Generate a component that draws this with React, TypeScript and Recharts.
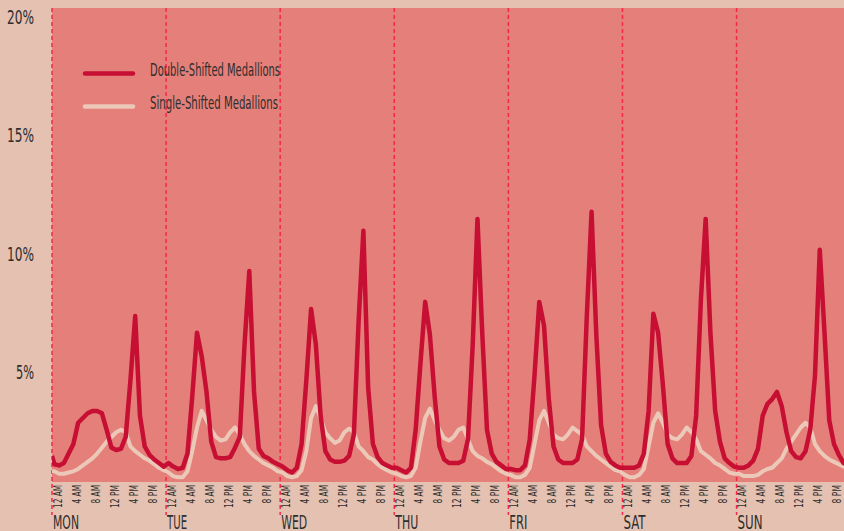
import React from 'react';
import { LineChart, Line, XAxis, YAxis, CartesianGrid, ReferenceLine, Legend } from 'recharts';

const days = ['MON', 'TUE', 'WED', 'THU', 'FRI', 'SAT', 'SUN'];
const hourLabels = ['12 AM', '4 AM', '8 AM', '12 PM', '4 PM', '8 PM'];
const yTicks = [5, 10, 15, 20];
const seriesNames = ['Double-Shifted Medallions', 'Single-Shifted Medallions'];

// hourly share of trips (%) for each day, hour 0..23
const doubleStart = 1.1;
const doubleMon = [0.75, 0.7, 0.8, 1.2, 1.6, 2.5, 2.7, 2.9, 3.0, 3.0, 2.9, 2.2, 1.45, 1.35, 1.4, 1.9, 4.3, 7.0, 2.8, 1.5, 1.15, 0.95, 0.8, 0.65];
const doubleTue = [0.8, 0.65, 0.55, 0.6, 1.2, 3.6, 6.3, 5.3, 3.8, 1.7, 1.05, 1.0, 1.0, 1.05, 1.45, 1.9, 5.8, 8.9, 3.8, 1.4, 1.1, 1.0, 0.85, 0.75];
const doubleWed = [0.65, 0.5, 0.4, 0.6, 1.6, 4.3, 7.3, 5.8, 2.8, 1.3, 0.95, 0.85, 0.85, 0.9, 1.1, 2.0, 6.8, 10.6, 4.0, 1.6, 1.05, 0.8, 0.7, 0.6];
const doubleThu = [0.6, 0.5, 0.4, 0.6, 2.2, 5.0, 7.6, 6.2, 3.6, 1.5, 0.95, 0.8, 0.8, 0.8, 0.9, 1.8, 5.8, 11.1, 6.3, 2.2, 1.2, 0.85, 0.7, 0.55];
const doubleFri = [0.55, 0.5, 0.5, 0.7, 1.8, 4.5, 7.6, 6.6, 3.5, 1.5, 0.95, 0.8, 0.8, 0.8, 0.95, 1.8, 7.0, 11.4, 6.2, 2.4, 1.2, 0.85, 0.7, 0.6];
const doubleSat = [0.6, 0.6, 0.6, 0.7, 1.2, 3.0, 7.1, 6.3, 4.1, 1.6, 1.0, 0.8, 0.8, 0.8, 1.1, 2.8, 7.7, 11.1, 6.3, 3.0, 1.7, 1.0, 0.8, 0.65];
const doubleSun = [0.6, 0.6, 0.7, 0.9, 1.4, 2.8, 3.3, 3.5, 3.8, 3.2, 2.1, 1.3, 1.05, 1.0, 1.3, 2.2, 4.5, 9.8, 6.3, 2.6, 1.6, 1.15, 0.8, 0.7];

const singleStart = 0.45;
const singleMon = [0.45, 0.35, 0.35, 0.4, 0.45, 0.55, 0.7, 0.85, 1.0, 1.2, 1.45, 1.7, 1.9, 2.1, 2.2, 2.1, 1.5, 1.3, 1.15, 1.0, 0.9, 0.75, 0.6, 0.5];
const singleTue = [0.4, 0.25, 0.2, 0.2, 0.45, 1.3, 2.3, 3.0, 2.6, 2.2, 1.9, 1.75, 1.8, 2.1, 2.3, 2.0, 1.6, 1.3, 1.1, 0.95, 0.8, 0.7, 0.6, 0.45];
const singleWed = [0.4, 0.25, 0.2, 0.25, 0.5, 1.3, 2.7, 3.2, 2.7, 2.1, 1.85, 1.65, 1.75, 2.1, 2.25, 2.1, 1.5, 1.3, 1.05, 0.95, 0.75, 0.6, 0.5, 0.4];
const singleThu = [0.35, 0.25, 0.2, 0.25, 0.6, 1.7, 2.7, 3.1, 2.6, 2.2, 1.85, 1.75, 1.9, 2.2, 2.3, 1.8, 1.3, 1.1, 1.0, 0.85, 0.75, 0.6, 0.45, 0.35];
const singleFri = [0.3, 0.2, 0.2, 0.3, 0.6, 1.6, 2.6, 3.0, 2.5, 2.0, 1.85, 1.8, 2.0, 2.3, 2.15, 2.0, 1.5, 1.3, 1.1, 0.95, 0.8, 0.65, 0.5, 0.45];
const singleSat = [0.3, 0.2, 0.2, 0.3, 0.55, 1.5, 2.5, 2.9, 2.5, 2.0, 1.85, 1.8, 2.0, 2.3, 2.1, 1.8, 1.3, 1.15, 1.0, 0.8, 0.7, 0.55, 0.4, 0.35];
const singleSun = [0.35, 0.25, 0.25, 0.25, 0.3, 0.45, 0.55, 0.6, 0.8, 1.0, 1.4, 1.7, 2.0, 2.3, 2.5, 2.3, 1.6, 1.3, 1.1, 0.95, 0.85, 0.75, 0.65, 0.6];

const doubleByDay = [doubleMon, doubleTue, doubleWed, doubleThu, doubleFri, doubleSat, doubleSun];
const singleByDay = [singleMon, singleTue, singleWed, singleThu, singleFri, singleSat, singleSun];

const data: { t: number; d: number; s: number }[] = [{ t: 0, d: doubleStart, s: singleStart }];
doubleByDay.forEach((arr, di) => {
  arr.forEach((v, h) => {
    data.push({ t: di * 24 + h + 0.5, d: v, s: singleByDay[di][h] });
  });
});

const xTicks: number[] = [];
for (let i = 0; i < days.length * hourLabels.length; i++) xTicks.push(i * 4);
const dayStarts = days.map((_, i) => i * 24);

const BG = '#E4C1B1';
const PLOT = '#E57F79';
const DARK = '#C60F33';
const LIGHT = '#EBC8B8';
const DASH = '#F2294B';
const TEXT = '#2E2E2E';
const FONT = '"DejaVu Sans Condensed", "DejaVu Sans", sans-serif';
const dayWidths: Record<string, number> = { MON: 26, TUE: 20, WED: 26, THU: 23, FRI: 18, SAT: 22, SUN: 25 };

const XTick = (props: any) => {
  const { x, y, payload } = props;
  const v = payload.value as number;
  const label = hourLabels[(v / 4) % 6];
  const tx = x + 9.5;
  const ty = y + 3;
  const isDay = v % 24 === 0;
  const day = days[Math.floor(v / 24)];
  return (
    <g>
      <text
        x={tx}
        y={ty}
        transform={`rotate(-90, ${tx}, ${ty})`}
        textAnchor="end"
        fontSize={12.5}
        fontFamily={FONT}
        fill={TEXT}
        textLength={label.length * 4.6}
        lengthAdjust="spacingAndGlyphs"
      >
        {label}
      </text>
      {isDay && (
        <text
          x={x + 1}
          y={y + 46.5}
          fontSize={19}
          fontFamily={FONT}
          fill={TEXT}
          textLength={dayWidths[day]}
          lengthAdjust="spacingAndGlyphs"
        >
          {day}
        </text>
      )}
    </g>
  );
};

const YTick = (props: any) => {
  const { y, payload } = props;
  const label = `${payload.value}%`;
  return (
    <text
      x={34}
      y={y + 15.5}
      textAnchor="end"
      fontSize={20}
      fontFamily={FONT}
      fill={TEXT}
      textLength={label.length * 9}
      lengthAdjust="spacingAndGlyphs"
    >
      {label}
    </text>
  );
};

const DayLine = (props: any) => {
  const top = Math.min(props.y1, props.y2);
  const bottom = Math.max(props.y1, props.y2) + 33;
  return (
    <line x1={props.x1} x2={props.x2} y1={top} y2={bottom} stroke={DASH} strokeWidth={1.5} strokeDasharray="4 3" />
  );
};

const LegendContent = () => {
  const items = [
    { name: seriesNames[0], color: DARK, ly: 73.5, ty: 76, w: 130 },
    { name: seriesNames[1], color: LIGHT, ly: 106.5, ty: 108.5, w: 128 },
  ];
  return (
    <svg width={480} height={130} style={{ display: 'block', overflow: 'visible' }}>
      {items.map((it) => (
        <g key={it.name}>
          <line x1={85} x2={133} y1={it.ly} y2={it.ly} stroke={it.color} strokeWidth={4.5} strokeLinecap="round" />
          <text x={150} y={it.ty} fontSize={17} fontFamily={FONT} fill={TEXT} textLength={it.w} lengthAdjust="spacingAndGlyphs">
            {it.name}
          </text>
        </g>
      ))}
    </svg>
  );
};

export default function App() {
  return (
    <div style={{ position: 'absolute', left: 0, top: 0, width: 844, height: 531, background: BG, overflow: 'hidden' }}>
      <LineChart width={844} height={531} data={data} margin={{ top: 8, right: 0, left: 0, bottom: 0 }}>
        <CartesianGrid horizontal={false} vertical={false} fill={PLOT} fillOpacity={1} stroke="none" />
        <XAxis
          dataKey="t"
          type="number"
          domain={[0, 166.6]}
          allowDataOverflow
          ticks={xTicks}
          interval={0}
          tick={<XTick />}
          tickLine={false}
          axisLine={false}
          tickSize={0}
          tickMargin={0}
          height={49}
        />
        <YAxis
          type="number"
          domain={[0, 20]}
          ticks={yTicks}
          interval={0}
          tick={<YTick />}
          tickLine={false}
          axisLine={false}
          width={52}
        />
        {dayStarts.map((d) => (
          <ReferenceLine key={d} x={d} stroke={DASH} shape={<DayLine />} />
        ))}
        <Legend
          layout="horizontal"
          verticalAlign="middle"
          align="center"
          content={<LegendContent />}
          wrapperStyle={{ position: 'absolute', left: 0, top: 0, width: 480, height: 130 }}
        />
        <Line
          dataKey="s"
          name={seriesNames[1]}
          type="linear"
          stroke={LIGHT}
          strokeWidth={4}
          strokeLinejoin="round"
          dot={false}
          activeDot={false}
          isAnimationActive={false}
        />
        <Line
          dataKey="d"
          name={seriesNames[0]}
          type="linear"
          stroke={DARK}
          strokeWidth={4.5}
          strokeLinejoin="round"
          dot={false}
          activeDot={false}
          isAnimationActive={false}
        />
      </LineChart>
    </div>
  );
}
